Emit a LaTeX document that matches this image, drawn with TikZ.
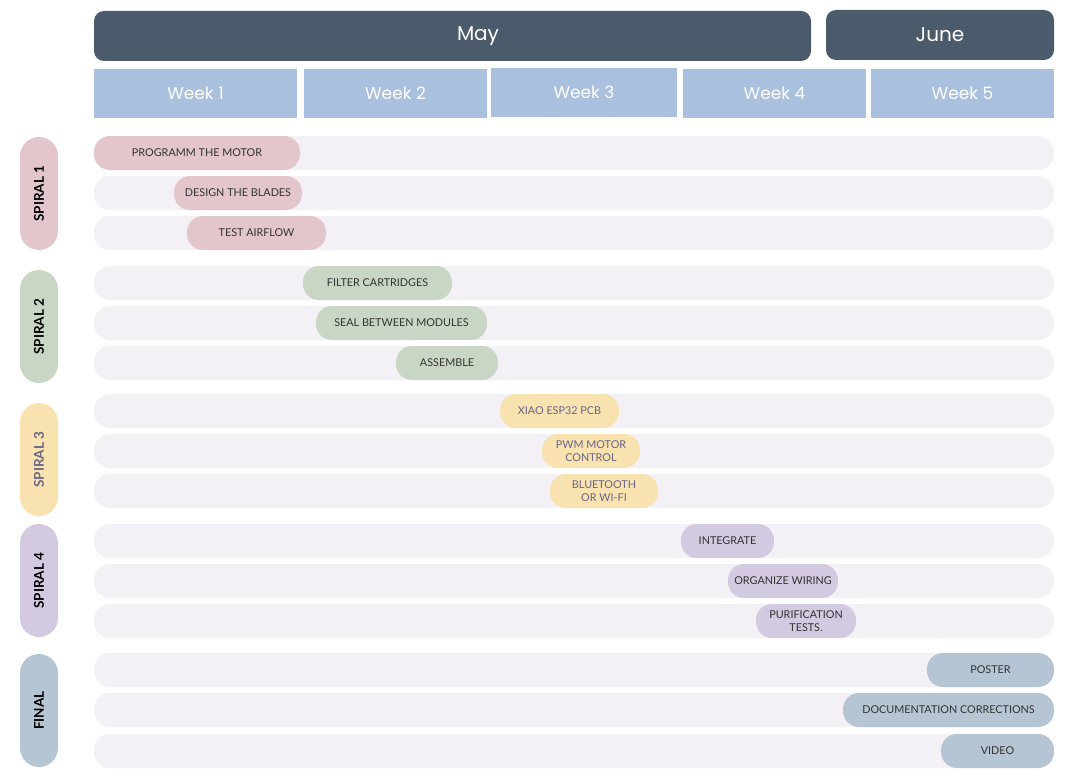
\documentclass[tikz,border=0pt]{standalone}
\usepackage{fontspec}
\setmainfont{Lato}
\newfontfamily\headfont{Poppins}
\definecolor{darkslate}{HTML}{4B5B6C}
\definecolor{weekblue}{HTML}{A9C0DE}
\definecolor{rowbg}{HTML}{F3F1F6}
\definecolor{spiralA}{HTML}{E2C6CB}
\definecolor{spiralB}{HTML}{C9D6C5}
\definecolor{spiralC}{HTML}{F7E2B0}
\definecolor{spiralD}{HTML}{D3C9E0}
\definecolor{spiralE}{HTML}{B6C5D4}
\definecolor{plumtext}{HTML}{6B6585}
\tikzset{
  month/.style={fill=darkslate,rounded corners=10pt,text=white,font=\headfont\fontsize{20}{20}\selectfont,minimum height=50pt,inner sep=0pt},
  week/.style={fill=weekblue,text=white,font=\headfont\fontsize{17}{17}\selectfont,minimum height=49pt,inner sep=0pt},
  rowbar/.style={fill=rowbg,rounded corners=16pt,minimum width=960pt,minimum height=34pt,inner sep=0pt},
  spiral/.style={fill=#1,rounded corners=19pt,minimum width=113pt,minimum height=38pt,inner sep=0pt,rotate=90,font=\bfseries\fontsize{13.5}{13.5}\selectfont},
  task/.style={fill=#1,rounded corners=16pt,minimum height=34pt,inner sep=0pt,align=center,font=\fontsize{10.8}{13}\selectfont,text=black!80},
}
\begin{document}
\begin{tikzpicture}[x=1pt,y=-1pt]
  \useasboundingbox (0,0) rectangle (1066,784);

  % months and weeks
  \node[month,minimum width=717pt] (may) at (452.5,36) {};
  \node[text=white,font=\headfont\fontsize{20}{20}\selectfont] (maylabel) at (478,36) {May};
  \node[month,minimum width=228pt] (june) at (940,35) {June};
  \node[week,minimum width=203pt] (w1) at (195.5,93.5) {Week 1};
  \node[week,minimum width=183pt] (w2) at (395.5,93.5) {Week 2};
  \node[week,minimum width=186pt] (w3) at (584,92.5) {Week 3};
  \node[week,minimum width=183pt] (w4) at (774.5,93.5) {Week 4};
  \node[week,minimum width=183pt] (w5) at (962.5,93.5) {Week 5};

  % background rows
  \foreach \y [count=\i] in {153,193,233,283,323,363,411,451,491,541,581,621,670,710,751}
    \node[rowbar] (row\i) at (574,\y) {};

  % spirals
  \node[spiral=spiralA] (s1) at (39,193.5) {SPIRAL 1};
  \node[spiral=spiralB] (s2) at (39,326.5) {SPIRAL 2};
  \node[spiral=spiralC,text=plumtext] (s3) at (39,459.5) {SPIRAL 3};
  \node[spiral=spiralD] (s4) at (39,580.5) {SPIRAL 4};
  \node[spiral=spiralE] (s5) at (39,710.5) {FINAL};

  % tasks
  \node[task=spiralA,minimum width=206pt] (t1) at (197,153) {PROGRAMM THE MOTOR};
  \node[task=spiralA,minimum width=128pt] (t2) at (238,193) {DESIGN THE BLADES};
  \node[task=spiralA,minimum width=139pt] (t3) at (256.5,233) {TEST AIRFLOW};
  \node[task=spiralB,minimum width=149pt] (t4) at (377.5,283) {FILTER CARTRIDGES};
  \node[task=spiralB,minimum width=171pt] (t5) at (401.5,323) {SEAL BETWEEN MODULES};
  \node[task=spiralB,minimum width=102pt] (t6) at (447,363) {ASSEMBLE};
  \node[task=spiralC,minimum width=119pt,text=plumtext] (t7) at (559.5,411) {XIAO ESP32 PCB};
  \node[task=spiralC,minimum width=98pt,text=plumtext] (t8) at (591,451) {PWM MOTOR\\CONTROL};
  \node[task=spiralC,minimum width=108pt,text=plumtext] (t9) at (604,491) {BLUETOOTH\\OR WI-FI};
  \node[task=spiralD,minimum width=93pt] (t10) at (727.5,541) {INTEGRATE};
  \node[task=spiralD,minimum width=110pt] (t11) at (783,581) {ORGANIZE WIRING};
  \node[task=spiralD,minimum width=100pt] (t12) at (806,621) {PURIFICATION\\TESTS.};
  \node[task=spiralE,minimum width=127pt] (t13) at (990.5,670) {POSTER};
  \node[task=spiralE,minimum width=211pt] (t14) at (948.5,710) {DOCUMENTATION CORRECTIONS};
  \node[task=spiralE,minimum width=113pt] (t15) at (997.5,751) {VIDEO};
\end{tikzpicture}
\end{document}
